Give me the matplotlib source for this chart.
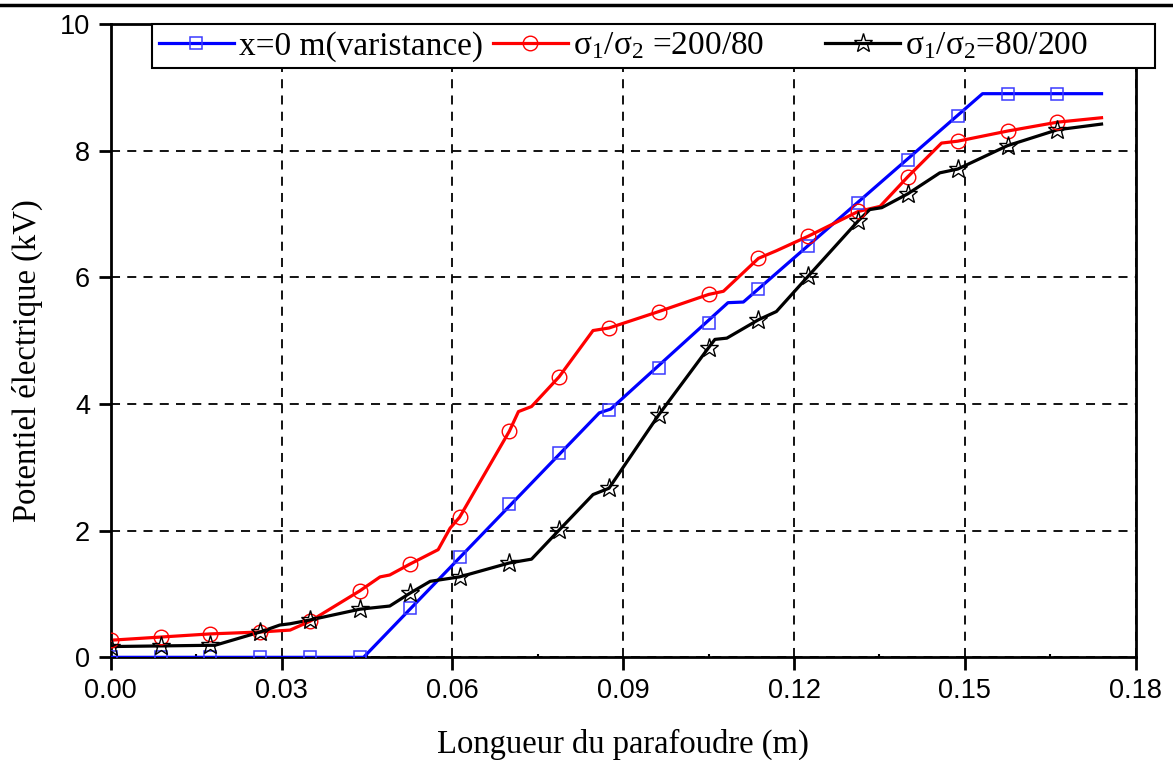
import matplotlib
matplotlib.use("Agg")
import matplotlib.pyplot as plt
from matplotlib.lines import Line2D
from matplotlib.legend_handler import HandlerTuple

# marker positions (every 0.00875 m)
x_mk = [0.00875 * k for k in range(20)]

blue_mk = [0, 0, 0, 0, 0, 0, 0.78, 1.59, 2.42, 3.23, 3.90, 4.57, 5.28, 5.82,
           6.49, 7.18, 7.86, 8.55, 8.90, 8.90]
red_mk = [0.27, 0.32, 0.37, 0.40, 0.57, 1.05, 1.47, 2.21, 3.57, 4.43, 5.20,
          5.46, 5.73, 6.30, 6.65, 7.04, 7.59, 8.15, 8.31, 8.45]
black_mk = [0.17, 0.18, 0.19, 0.40, 0.59, 0.76, 1.01, 1.27, 1.49, 2.01, 2.67,
            3.83, 4.89, 5.33, 6.02, 6.89, 7.32, 7.71, 8.08, 8.33]

# line vertices
blue_x = [0, 0.0444, 0.0858, 0.0878, 0.1084, 0.1111, 0.1531, 0.174]
blue_y = [0, 0, 3.86, 3.92, 5.60, 5.61, 8.90, 8.90]

red_x = [0, 0.00875, 0.0175, 0.02625, 0.0315, 0.035, 0.04375, 0.0473, 0.049,
         0.0525, 0.0575, 0.0596, 0.06125, 0.070, 0.0716, 0.0739, 0.07875,
         0.0847, 0.0875, 0.09625, 0.105, 0.1076, 0.11375, 0.1169, 0.1225,
         0.13125, 0.1351, 0.14, 0.1459, 0.14875, 0.1575, 0.16625, 0.174]
red_y = [0.27, 0.32, 0.37, 0.40, 0.43, 0.57, 1.05, 1.27, 1.30, 1.47, 1.70,
         2.04, 2.21, 3.57, 3.88, 3.96, 4.43, 5.16, 5.20, 5.46, 5.73, 5.78,
         6.30, 6.42, 6.65, 7.04, 7.12, 7.59, 8.12, 8.15, 8.31, 8.45, 8.52]

black_x = [0, 0.00875, 0.0175, 0.0183, 0.02625, 0.0297, 0.0315, 0.035,
           0.04375, 0.049, 0.0525, 0.0561, 0.06125, 0.070, 0.0739, 0.07875,
           0.0847, 0.0875, 0.09625, 0.105, 0.1061, 0.1082, 0.11375, 0.1169,
           0.1225, 0.13125, 0.1333, 0.1354, 0.14, 0.1456, 0.14875, 0.1575,
           0.16625, 0.174]
black_y = [0.17, 0.18, 0.19, 0.19, 0.40, 0.51, 0.53, 0.59, 0.76, 0.81, 1.01,
           1.20, 1.27, 1.49, 1.55, 2.01, 2.57, 2.67, 3.83, 4.89, 5.02, 5.04,
           5.33, 5.46, 6.02, 6.89, 7.07, 7.10, 7.32, 7.65, 7.71, 8.08, 8.33,
           8.42]

labels = ['x=0 m(varistance)', 'σ$_1$/σ$_2$ =200/80' + '\u00a0' * 7,
          'σ$_1$/σ$_2$=80/200' + '\u00a0' * 8]

plt.rcParams['font.family'] = ['Liberation Sans', 'DejaVu Sans']
plt.rcParams['mathtext.fontset'] = 'custom'
plt.rcParams['mathtext.rm'] = 'Liberation Serif'
plt.rcParams['mathtext.default'] = 'regular'

fig = plt.figure(figsize=(11.73, 7.6), dpi=100)
ax = fig.add_axes([0.0944, 0.1351, 0.9682 - 0.0944, 0.9684 - 0.1351])

lw = 2.3
l1, = ax.plot(blue_x, blue_y, color='#0000ff', lw=lw, zorder=3)
m1, = ax.plot(x_mk, blue_mk, ls='none', marker='s', ms=9, mfc='none',
              mec='#3a3aff', mew=1.1, zorder=4)
l2, = ax.plot(red_x, red_y, color='#ff0000', lw=lw, zorder=3)
m2, = ax.plot(x_mk, red_mk, ls='none', marker='o', ms=10.5, mfc='none',
              mec='#ff0000', mew=1.0, zorder=4)
l3, = ax.plot(black_x, black_y, color='black', lw=lw, zorder=3)
m3, = ax.plot(x_mk, black_mk, ls='none', marker='*', ms=14, mfc='none',
              mec='black', mew=1.0, zorder=4)

ax.set_xlim(0, 0.18)
ax.set_ylim(0, 10)
ax.set_xticks([0, 0.03, 0.06, 0.09, 0.12, 0.15, 0.18])
ax.set_xticklabels(['0.00', '0.03', '0.06', '0.09', '0.12', '0.15', '0.18'])
ax.set_yticks([0, 2, 4, 6, 8, 10])
ax.set_xticks([0.015, 0.045, 0.075, 0.105, 0.135, 0.165], minor=True)

ax.grid(True, which='major', color='black', ls=(0, (5, 4)), lw=1.3)
ax.tick_params(which='major', direction='out', length=9, width=2,
               labelsize=19.5, pad=6)
ax.tick_params(which='minor', axis='x', direction='in', length=2, width=1.5)
for s in ax.spines.values():
    s.set_linewidth(2)

ax.set_xlabel('Longueur du parafoudre (m)', family='Liberation Serif',
              fontsize=23.5)
ax.xaxis.set_label_coords(0.5, -0.113)
ax.set_ylabel('Potentiel électrique (kV)', family='Liberation Serif',
              fontsize=23.5)
ax.yaxis.set_label_coords(-0.066, 0.469)

leg = ax.legend([(l1, m1), (l2, m2), (l3, m3)], labels,
                handler_map={tuple: HandlerTuple(ndivide=1, pad=0)},
                ncol=3, loc='upper left',
                bbox_to_anchor=(0.0403, 1.0),
                prop={'family': 'Liberation Serif', 'size': 24},
                fancybox=False, edgecolor='black', framealpha=1,
                handlelength=2.25, handletextpad=0.15, columnspacing=0.3,
                borderpad=0.2, borderaxespad=0, numpoints=1)
leg.get_frame().set_linewidth(1.5)
leg.set_zorder(10)

fig.add_artist(Line2D([0, 1], [0.994, 0.994], color='black', lw=2.5,
                      transform=fig.transFigure))

fig.savefig('out.png', dpi=100)
